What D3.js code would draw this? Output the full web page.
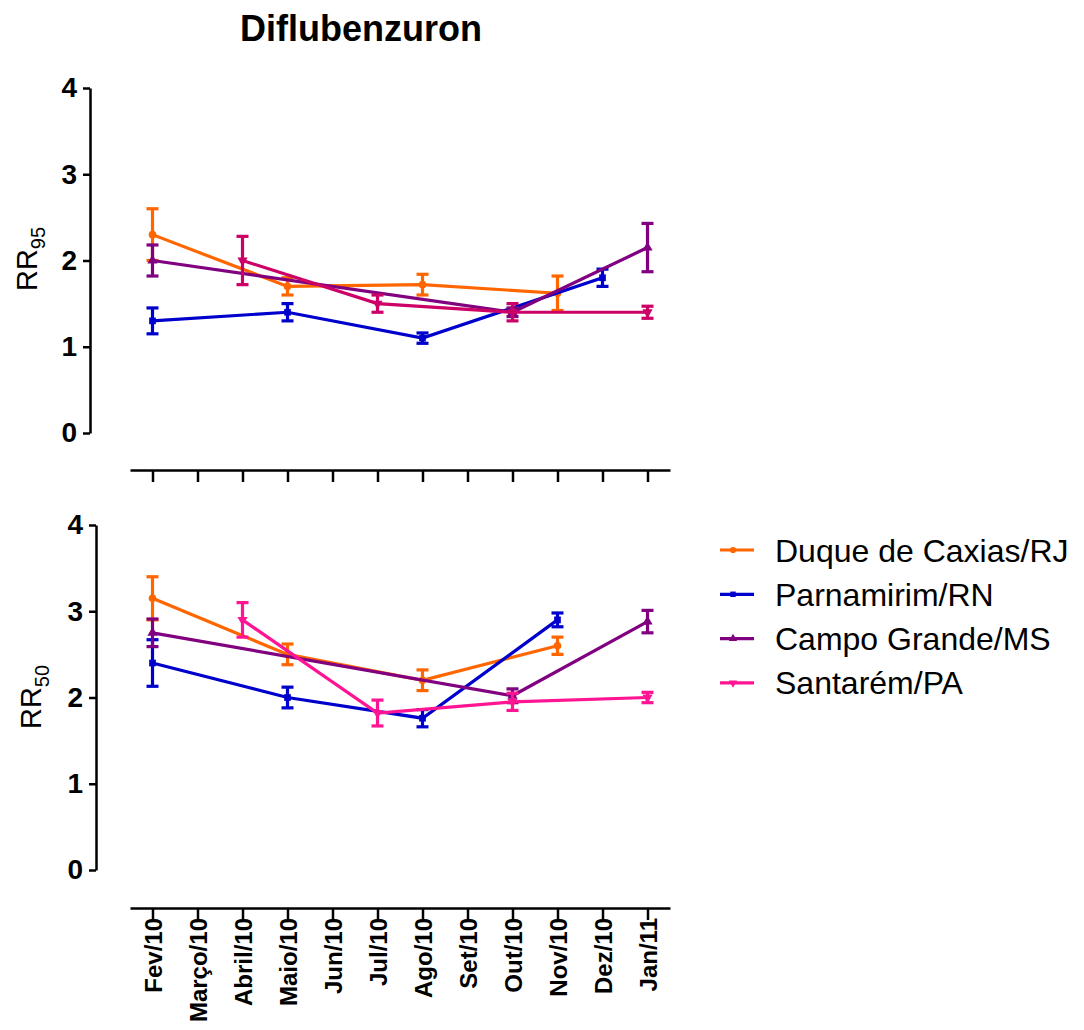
<!DOCTYPE html>
<html>
<head>
<meta charset="utf-8">
<script src="https://cdn.jsdelivr.net/npm/d3@7"></script>
<style>
  body { margin: 0; background: #fff; }
  text { font-family: Arial, "Liberation Sans", sans-serif; }
</style>
</head>
<body>
<svg id="chart" width="1084" height="1030"></svg>
<script>
// meses do eixo x
const months = ['Fev/10', 'Março/10', 'Abril/10', 'Maio/10', 'Jun/10', 'Jul/10',
  'Ago/10', 'Set/10', 'Out/10', 'Nov/10', 'Dez/10', 'Jan/11']
const yTicks = [0, 1, 2, 3, 4]
const cities = ['Duque de Caxias/RJ', 'Parnamirim/RN', 'Campo Grande/MS', 'Santarém/PA']

// RR95 (média e erro), null = sem ponto
const duque95 = [2.3, null, null, 1.7, null, null, 1.72, null, null, 1.62, null, null]
const duque95Err = [0.3, null, null, 0.1, null, null, 0.12, null, null, 0.2, null, null]
const parna95 = [1.3, null, null, 1.4, null, null, 1.1, null, null, null, 1.8, null]
const parna95Err = [0.15, null, null, 0.1, null, null, 0.06, null, null, null, 0.1, null]
const campo95 = [2.0, null, null, null, null, null, null, null, 1.4, null, null, 2.15]
const campo95Err = [0.18, null, null, null, null, null, null, null, 0.05, null, null, 0.28]
const santa95 = [null, null, 2.0, null, null, 1.5, null, null, 1.4, null, null, 1.4]
const santa95Err = [null, null, 0.28, null, null, 0.1, null, null, 0.1, null, null, 0.07]

// RR50
const duque50 = [3.15, null, null, 2.5, null, null, 2.2, null, null, 2.6, null, null]
const duque50Err = [0.25, null, null, 0.12, null, null, 0.12, null, null, 0.1, null, null]
const parna50 = [2.4, null, null, 2.0, null, null, 1.76, null, null, 2.9, null, null]
const parna50Err = [0.27, null, null, 0.12, null, null, 0.1, null, null, 0.08, null, null]
const campo50 = [2.75, null, null, null, null, null, null, null, 2.02, null, null, 2.88]
const campo50Err = [0.16, null, null, null, null, null, null, null, 0.08, null, null, 0.13]
const santa50 = [null, null, 2.9, null, null, 1.82, null, null, 1.95, null, null, 2.0]
const santa50Err = [null, null, 0.2, null, null, 0.15, null, null, 0.1, null, null, 0.06]

const colors = ['#ff6600', '#0000cc', '#800080', '#ff1493']
const symbols = [d3.symbolCircle, d3.symbolSquare, d3.symbolTriangle, d3.symbolTriangle]
const FONT = 'Arial, "Liberation Sans", sans-serif'

const svg = d3.select('#chart')

svg.append('text')
  .attr('x', 361).attr('y', 41)
  .attr('text-anchor', 'middle')
  .attr('font-size', 36).attr('font-weight', 'bold')
  .text('Diflubenzuron')

const x = d3.scalePoint().domain(months).range([130, 670]).padding(0.5)

function drawPanel(opt) {
  const g = svg.append('g')
  const y = d3.scaleLinear().domain([0, 4]).range([opt.bottom, opt.top])

  // eixo y
  const yAxis = g.append('g')
    .attr('transform', `translate(${opt.axisX},0)`)
    .call(d3.axisLeft(y).tickValues(yTicks).tickFormat(d3.format('d'))
      .tickSize(7).tickSizeOuter(0).tickPadding(6))
  yAxis.select('.domain').attr('stroke-width', 2.5)
  yAxis.selectAll('.tick line').attr('stroke-width', 2.5)
  yAxis.selectAll('.tick text')
    .attr('font-size', 28).attr('font-weight', 'bold').attr('fill', '#000')
    .attr('font-family', FONT)

  // eixo x
  const xAxis = g.append('g')
    .attr('transform', `translate(0,${opt.xAxisY})`)
    .call(d3.axisBottom(x).tickSize(12).tickSizeOuter(0))
  xAxis.select('.domain').attr('stroke-width', 2.5)
  xAxis.selectAll('.tick line').attr('stroke-width', 2.5)
  if (opt.labels) {
    xAxis.selectAll('.tick text')
      .attr('font-size', 24).attr('font-weight', 'bold').attr('fill', '#000')
      .attr('font-family', FONT)
      .attr('transform', 'rotate(-90)')
      .attr('text-anchor', 'end')
      .attr('x', -10).attr('y', 0).attr('dy', '0.36em')
  } else {
    xAxis.selectAll('.tick text').remove()
  }

  // rótulo do eixo y
  const lab = g.append('text')
    .attr('transform', `translate(${opt.labelX},${opt.labelY}) rotate(-90)`)
    .attr('text-anchor', 'middle')
    .attr('font-size', 29)
  lab.append('tspan').text('RR')
  lab.append('tspan').attr('font-size', 20).attr('dy', 8).text(opt.sub)

  // séries
  opt.series.forEach((s, k) => {
    const pts = s.values
      .map((v, i) => ({ m: months[i], v, e: s.errs[i] }))
      .filter(d => d.v != null)
    const color = s.color || colors[k]

    g.append('path')
      .datum(pts)
      .attr('fill', 'none')
      .attr('stroke', color)
      .attr('stroke-width', 3.2)
      .attr('d', d3.line().x(d => x(d.m)).y(d => y(d.v)))

    const eb = g.append('g').selectAll('g').data(pts).join('g')
      .attr('stroke', color).attr('stroke-width', 3.2)
    eb.append('line')
      .attr('x1', d => x(d.m)).attr('x2', d => x(d.m))
      .attr('y1', d => y(d.v - d.e)).attr('y2', d => y(d.v + d.e))
    eb.append('line')
      .attr('x1', d => x(d.m) - 6).attr('x2', d => x(d.m) + 6)
      .attr('y1', d => y(d.v + d.e)).attr('y2', d => y(d.v + d.e))
    eb.append('line')
      .attr('x1', d => x(d.m) - 6).attr('x2', d => x(d.m) + 6)
      .attr('y1', d => y(d.v - d.e)).attr('y2', d => y(d.v - d.e))

    g.append('g').selectAll('path').data(pts).join('path')
      .attr('transform', d => `translate(${x(d.m)},${y(d.v)})${k === 3 ? ' rotate(180)' : ''}`)
      .attr('d', d3.symbol().type(symbols[k]).size(45))
      .attr('fill', color)
  })
}

drawPanel({
  top: 88, bottom: 433, axisX: 90, xAxisY: 470, labels: false,
  labelX: 37, labelY: 259, sub: '95',
  series: [
    { values: duque95, errs: duque95Err },
    { values: parna95, errs: parna95Err },
    { values: campo95, errs: campo95Err },
    { values: santa95, errs: santa95Err, color: '#cc0066' }
  ]
})

drawPanel({
  top: 525, bottom: 870, axisX: 96, xAxisY: 908, labels: true,
  labelX: 41, labelY: 697, sub: '50',
  series: [
    { values: duque50, errs: duque50Err },
    { values: parna50, errs: parna50Err },
    { values: campo50, errs: campo50Err },
    { values: santa50, errs: santa50Err }
  ]
})

// legenda
const leg = svg.append('g').selectAll('g').data(cities).join('g')
  .attr('transform', (d, i) => `translate(720,${550 + i * 44.3})`)
leg.append('line')
  .attr('x1', 0).attr('x2', 34)
  .attr('stroke', (d, i) => colors[i]).attr('stroke-width', 3.2)
leg.append('path')
  .attr('transform', (d, i) => `translate(13,0)${i === 3 ? ' rotate(180)' : ''}`)
  .attr('d', (d, i) => d3.symbol().type(symbols[i]).size(30)())
  .attr('fill', (d, i) => colors[i])
leg.append('text')
  .attr('x', 55).attr('dy', '0.36em')
  .attr('font-size', 32)
  .text(d => d)
</script>
</body>
</html>
